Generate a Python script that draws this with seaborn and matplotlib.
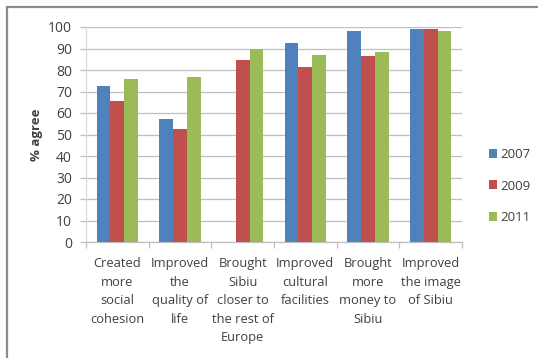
import numpy as np
import pandas as pd
import matplotlib
matplotlib.use("Agg")
import matplotlib.pyplot as plt
from matplotlib.patches import Rectangle, Patch
import seaborn as sns

# Survey outcomes (% agree) by year
categories = [
    "Created\nmore\nsocial\ncohesion",
    "Improved\nthe\nquality of\nlife",
    "Brought\nSibiu\ncloser to\nthe rest of\nEurope",
    "Improved\ncultural\nfacilities",
    "Brought\nmore\nmoney to\nSibiu",
    "Improved\nthe image\nof Sibiu",
]
years = ["2007", "2009", "2011"]
values_2007 = [72.5, 57.2, 0.0, 92.4, 98.3, 98.9]
values_2009 = [65.6, 52.6, 84.7, 81.2, 86.7, 99.0]
values_2011 = [76.0, 76.7, 90.0, 87.0, 88.5, 98.1]
y_ticks = list(range(0, 101, 10))

palette = ["#4F81BD", "#C0504D", "#9BBB59"]
text_color = "#404040"
grid_color = "#BFBFBF"

df = pd.DataFrame({
    "category": categories * 3,
    "year": sum([[y] * len(categories) for y in years], []),
    "value": values_2007 + values_2009 + values_2011,
})

sns.set_theme(style="white")
plt.rcParams["font.family"] = ["Open Sans", "DejaVu Sans"]

W, H = 538, 358
fig = plt.figure(figsize=(W / 100, H / 100), dpi=100)
fig.patch.set_facecolor("white")

# plot area in pixel units
x0, x1, ytop, ybot = 86, 462, 27, 242
ax = fig.add_axes([x0 / W, (H - ybot) / H, (x1 - x0) / W, (ybot - ytop) / H])

sns.barplot(data=df, x="category", y="value", hue="year", hue_order=years,
            order=categories, palette=palette, width=0.66, saturation=1,
            edgecolor="none", linewidth=0, ax=ax, legend=False, zorder=3)

ax.set_ylim(0, 100)
ax.set_xlim(-0.5, len(categories) - 0.5)
ax.set_yticks(y_ticks)
ax.yaxis.grid(True, color=grid_color, linewidth=0.9, zorder=0)
ax.set_axisbelow(True)
for side in ["top", "right"]:
    ax.spines[side].set_visible(False)
ax.spines["left"].set_color("#D9D9D9")
ax.spines["bottom"].set_color(grid_color)
ax.spines["left"].set_linewidth(0.9)
ax.spines["bottom"].set_linewidth(0.9)

ax.tick_params(axis="y", length=4, width=0.9, color=grid_color, pad=6,
               labelsize=10, labelcolor=text_color, left=True)
ax.set_xticks(range(len(categories)))
ax.set_xticklabels(categories, fontsize=9.3, color=text_color, linespacing=1.55)
ax.tick_params(axis="x", length=0, pad=11)
ax.set_xticks(np.arange(-0.5, len(categories), 1.0), minor=True)
ax.tick_params(axis="x", which="minor", length=4, width=0.9, color=grid_color,
               bottom=True)

ax.set_xlabel("")
ax.set_ylabel("% agree", fontsize=9.5, fontweight="bold", color=text_color)
ax.yaxis.set_label_coords(-(86 - 43) / (x1 - x0), 0.5)

handles = [Patch(facecolor=c, edgecolor="none", label=y)
           for c, y in zip(palette, years)]
fig.legend(handles=handles, loc="center left",
           bbox_to_anchor=(477 / W, (H - 186) / H), frameon=False,
           fontsize=9.5, labelcolor=text_color, handlelength=0.65,
           handleheight=0.65, handletextpad=0.25, labelspacing=1.4)

# chart area border
fig.add_artist(Rectangle((7 / W, -0.1), 1.2, (H - 7) / H + 0.1,
                         transform=fig.transFigure, fill=False,
                         edgecolor="#8C8C8C", linewidth=1.6))

fig.savefig("out.png", dpi=100, facecolor="white")
